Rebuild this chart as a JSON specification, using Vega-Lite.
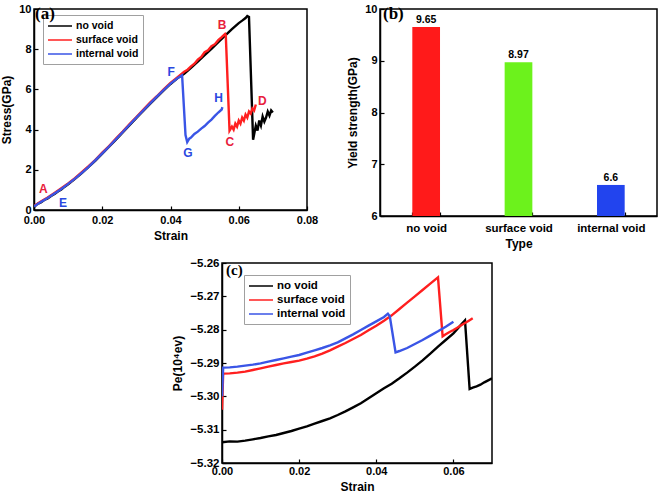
{
"$schema": "https://vega.github.io/schema/vega-lite/v6.json",
"padding": {"left": 0, "top": 2, "right": 5, "bottom": 0},
"background": "white",
"config": {
  "font": "Liberation Sans",
  "view": {"stroke": "black", "strokeWidth": 1.5},
  "axis": {"labelFont": "Liberation Sans", "labelFontWeight": "bold", "labelFontSize": 11, "labelColor": "black", "titleFont": "Liberation Sans", "titleFontWeight": "bold", "titleFontSize": 12, "titleColor": "black", "domainColor": "black", "domainWidth": 1.5, "tickColor": "black", "tickSize": -4, "tickWidth": 1.2, "labelPadding": 7, "titlePadding": 5, "grid": false, "labelFlush": false, "labelOverlap": false},
  "legend": {"labelFont": "Liberation Sans", "labelFontWeight": "bold", "labelColor": "black", "symbolType": "M-2,0H2", "symbolSize": 144, "symbolOffset": 6, "labelOffset": 9, "symbolStrokeWidth": 1.5, "strokeColor": "#a0a0a0", "padding": 4, "title": null},
  "title": {"font": "Liberation Serif", "fontWeight": "bold", "color": "black", "anchor": "start", "frame": "group"}
},
"datasets": {
  "a": [
    {"s":0,"v":0.15,"k":"no void"},{"s":0.001,"v":0.3,"k":"no void"},{"s":0.002,"v":0.38,"k":"no void"},{"s":0.003,"v":0.5,"k":"no void"},{"s":0.004,"v":0.58,"k":"no void"},{"s":0.005,"v":0.7,"k":"no void"},{"s":0.006,"v":0.8,"k":"no void"},{"s":0.007,"v":0.92,"k":"no void"},{"s":0.008,"v":1.02,"k":"no void"},{"s":0.009,"v":1.16,"k":"no void"},{"s":0.010,"v":1.28,"k":"no void"},{"s":0.012,"v":1.55,"k":"no void"},{"s":0.014,"v":1.84,"k":"no void"},{"s":0.016,"v":2.14,"k":"no void"},{"s":0.018,"v":2.46,"k":"no void"},{"s":0.020,"v":2.8,"k":"no void"},{"s":0.022,"v":3.15,"k":"no void"},{"s":0.024,"v":3.5,"k":"no void"},{"s":0.026,"v":3.86,"k":"no void"},{"s":0.028,"v":4.22,"k":"no void"},{"s":0.030,"v":4.58,"k":"no void"},{"s":0.032,"v":4.93,"k":"no void"},{"s":0.034,"v":5.28,"k":"no void"},{"s":0.036,"v":5.62,"k":"no void"},{"s":0.038,"v":5.95,"k":"no void"},{"s":0.040,"v":6.27,"k":"no void"},{"s":0.042,"v":6.55,"k":"no void"},{"s":0.044,"v":6.78,"k":"no void"},{"s":0.046,"v":7.07,"k":"no void"},{"s":0.048,"v":7.38,"k":"no void"},{"s":0.050,"v":7.7,"k":"no void"},{"s":0.052,"v":8.02,"k":"no void"},{"s":0.054,"v":8.35,"k":"no void"},{"s":0.056,"v":8.68,"k":"no void"},{"s":0.058,"v":9.0,"k":"no void"},{"s":0.060,"v":9.3,"k":"no void"},{"s":0.061,"v":9.42,"k":"no void"},{"s":0.062,"v":9.55,"k":"no void"},{"s":0.0625,"v":9.65,"k":"no void"},{"s":0.063,"v":9.6,"k":"no void"},{"s":0.0642,"v":3.5,"k":"no void"},{"s":0.065,"v":4.2,"k":"no void"},{"s":0.0655,"v":3.95,"k":"no void"},{"s":0.066,"v":4.45,"k":"no void"},{"s":0.0665,"v":4.2,"k":"no void"},{"s":0.067,"v":4.65,"k":"no void"},{"s":0.0675,"v":4.4,"k":"no void"},{"s":0.068,"v":4.6,"k":"no void"},{"s":0.0685,"v":4.9,"k":"no void"},{"s":0.069,"v":4.7,"k":"no void"},{"s":0.0695,"v":4.95,"k":"no void"},{"s":0.07,"v":4.85,"k":"no void"},
    {"s":0,"v":0.2,"k":"surface void"},{"s":0.002,"v":0.42,"k":"surface void"},{"s":0.004,"v":0.62,"k":"surface void"},{"s":0.006,"v":0.85,"k":"surface void"},{"s":0.008,"v":1.08,"k":"surface void"},{"s":0.010,"v":1.32,"k":"surface void"},{"s":0.012,"v":1.58,"k":"surface void"},{"s":0.014,"v":1.88,"k":"surface void"},{"s":0.016,"v":2.18,"k":"surface void"},{"s":0.018,"v":2.5,"k":"surface void"},{"s":0.020,"v":2.85,"k":"surface void"},{"s":0.022,"v":3.18,"k":"surface void"},{"s":0.024,"v":3.55,"k":"surface void"},{"s":0.026,"v":3.9,"k":"surface void"},{"s":0.028,"v":4.28,"k":"surface void"},{"s":0.030,"v":4.62,"k":"surface void"},{"s":0.032,"v":4.98,"k":"surface void"},{"s":0.034,"v":5.34,"k":"surface void"},{"s":0.036,"v":5.66,"k":"surface void"},{"s":0.038,"v":6.0,"k":"surface void"},{"s":0.040,"v":6.32,"k":"surface void"},{"s":0.042,"v":6.6,"k":"surface void"},{"s":0.044,"v":6.88,"k":"surface void"},{"s":0.045,"v":6.98,"k":"surface void"},{"s":0.046,"v":7.15,"k":"surface void"},{"s":0.047,"v":7.28,"k":"surface void"},{"s":0.048,"v":7.48,"k":"surface void"},{"s":0.049,"v":7.62,"k":"surface void"},{"s":0.050,"v":7.85,"k":"surface void"},{"s":0.051,"v":7.95,"k":"surface void"},{"s":0.052,"v":8.15,"k":"surface void"},{"s":0.053,"v":8.25,"k":"surface void"},{"s":0.054,"v":8.45,"k":"surface void"},{"s":0.055,"v":8.6,"k":"surface void"},{"s":0.056,"v":8.76,"k":"surface void"},{"s":0.0562,"v":8.7,"k":"surface void"},{"s":0.0573,"v":3.95,"k":"surface void"},{"s":0.058,"v":4.15,"k":"surface void"},{"s":0.0585,"v":4.0,"k":"surface void"},{"s":0.059,"v":4.3,"k":"surface void"},{"s":0.0595,"v":4.15,"k":"surface void"},{"s":0.060,"v":4.45,"k":"surface void"},{"s":0.0605,"v":4.3,"k":"surface void"},{"s":0.061,"v":4.6,"k":"surface void"},{"s":0.0615,"v":4.45,"k":"surface void"},{"s":0.062,"v":4.75,"k":"surface void"},{"s":0.0625,"v":4.6,"k":"surface void"},{"s":0.063,"v":4.9,"k":"surface void"},{"s":0.0635,"v":4.8,"k":"surface void"},{"s":0.064,"v":5.05,"k":"surface void"},{"s":0.0645,"v":4.95,"k":"surface void"},{"s":0.065,"v":5.25,"k":"surface void"},
    {"s":0,"v":0.18,"k":"internal void"},{"s":0.002,"v":0.4,"k":"internal void"},{"s":0.004,"v":0.6,"k":"internal void"},{"s":0.006,"v":0.82,"k":"internal void"},{"s":0.008,"v":1.05,"k":"internal void"},{"s":0.010,"v":1.3,"k":"internal void"},{"s":0.012,"v":1.56,"k":"internal void"},{"s":0.014,"v":1.85,"k":"internal void"},{"s":0.016,"v":2.15,"k":"internal void"},{"s":0.018,"v":2.48,"k":"internal void"},{"s":0.020,"v":2.82,"k":"internal void"},{"s":0.022,"v":3.16,"k":"internal void"},{"s":0.024,"v":3.52,"k":"internal void"},{"s":0.026,"v":3.88,"k":"internal void"},{"s":0.028,"v":4.24,"k":"internal void"},{"s":0.030,"v":4.6,"k":"internal void"},{"s":0.032,"v":4.95,"k":"internal void"},{"s":0.034,"v":5.3,"k":"internal void"},{"s":0.036,"v":5.64,"k":"internal void"},{"s":0.038,"v":5.97,"k":"internal void"},{"s":0.040,"v":6.29,"k":"internal void"},{"s":0.042,"v":6.55,"k":"internal void"},{"s":0.0434,"v":6.7,"k":"internal void"},{"s":0.0444,"v":3.73,"k":"internal void"},{"s":0.0449,"v":3.38,"k":"internal void"},{"s":0.0455,"v":3.55,"k":"internal void"},{"s":0.046,"v":3.6,"k":"internal void"},{"s":0.047,"v":3.78,"k":"internal void"},{"s":0.048,"v":3.9,"k":"internal void"},{"s":0.049,"v":4.05,"k":"internal void"},{"s":0.050,"v":4.18,"k":"internal void"},{"s":0.051,"v":4.35,"k":"internal void"},{"s":0.052,"v":4.5,"k":"internal void"},{"s":0.053,"v":4.68,"k":"internal void"},{"s":0.054,"v":4.85,"k":"internal void"},{"s":0.055,"v":5.0,"k":"internal void"},{"s":0.0552,"v":5.12,"k":"internal void"}
  ],
  "c": [
    {"s":0,"v":-5.3138,"k":"no void"},{"s":0.002,"v":-5.3135,"k":"no void"},{"s":0.004,"v":-5.3136,"k":"no void"},{"s":0.006,"v":-5.3133,"k":"no void"},{"s":0.008,"v":-5.3129,"k":"no void"},{"s":0.010,"v":-5.3125,"k":"no void"},{"s":0.012,"v":-5.3120,"k":"no void"},{"s":0.014,"v":-5.3116,"k":"no void"},{"s":0.016,"v":-5.3110,"k":"no void"},{"s":0.018,"v":-5.3104,"k":"no void"},{"s":0.020,"v":-5.3097,"k":"no void"},{"s":0.022,"v":-5.3090,"k":"no void"},{"s":0.024,"v":-5.3082,"k":"no void"},{"s":0.026,"v":-5.3074,"k":"no void"},{"s":0.028,"v":-5.3066,"k":"no void"},{"s":0.030,"v":-5.3056,"k":"no void"},{"s":0.032,"v":-5.3045,"k":"no void"},{"s":0.034,"v":-5.3033,"k":"no void"},{"s":0.036,"v":-5.3021,"k":"no void"},{"s":0.038,"v":-5.3006,"k":"no void"},{"s":0.040,"v":-5.2991,"k":"no void"},{"s":0.042,"v":-5.2976,"k":"no void"},{"s":0.044,"v":-5.2962,"k":"no void"},{"s":0.046,"v":-5.2946,"k":"no void"},{"s":0.048,"v":-5.2929,"k":"no void"},{"s":0.050,"v":-5.2911,"k":"no void"},{"s":0.052,"v":-5.2892,"k":"no void"},{"s":0.054,"v":-5.2872,"k":"no void"},{"s":0.056,"v":-5.2851,"k":"no void"},{"s":0.058,"v":-5.2831,"k":"no void"},{"s":0.060,"v":-5.2811,"k":"no void"},{"s":0.062,"v":-5.2785,"k":"no void"},{"s":0.063,"v":-5.2772,"k":"no void"},{"s":0.0642,"v":-5.2978,"k":"no void"},{"s":0.065,"v":-5.2974,"k":"no void"},{"s":0.066,"v":-5.2970,"k":"no void"},{"s":0.067,"v":-5.2965,"k":"no void"},{"s":0.068,"v":-5.2958,"k":"no void"},{"s":0.069,"v":-5.2952,"k":"no void"},{"s":0.070,"v":-5.2946,"k":"no void"},
    {"s":0,"v":-5.3040,"k":"surface void"},{"s":0.0003,"v":-5.2932,"k":"surface void"},{"s":0.002,"v":-5.2931,"k":"surface void"},{"s":0.004,"v":-5.2929,"k":"surface void"},{"s":0.006,"v":-5.2926,"k":"surface void"},{"s":0.008,"v":-5.2921,"k":"surface void"},{"s":0.010,"v":-5.2916,"k":"surface void"},{"s":0.012,"v":-5.2911,"k":"surface void"},{"s":0.014,"v":-5.2906,"k":"surface void"},{"s":0.016,"v":-5.2901,"k":"surface void"},{"s":0.018,"v":-5.2897,"k":"surface void"},{"s":0.020,"v":-5.2893,"k":"surface void"},{"s":0.022,"v":-5.2887,"k":"surface void"},{"s":0.024,"v":-5.2880,"k":"surface void"},{"s":0.026,"v":-5.2872,"k":"surface void"},{"s":0.028,"v":-5.2862,"k":"surface void"},{"s":0.030,"v":-5.2851,"k":"surface void"},{"s":0.032,"v":-5.2840,"k":"surface void"},{"s":0.034,"v":-5.2828,"k":"surface void"},{"s":0.036,"v":-5.2816,"k":"surface void"},{"s":0.038,"v":-5.2802,"k":"surface void"},{"s":0.040,"v":-5.2788,"k":"surface void"},{"s":0.042,"v":-5.2773,"k":"surface void"},{"s":0.044,"v":-5.2757,"k":"surface void"},{"s":0.046,"v":-5.2738,"k":"surface void"},{"s":0.048,"v":-5.2719,"k":"surface void"},{"s":0.050,"v":-5.2700,"k":"surface void"},{"s":0.052,"v":-5.2681,"k":"surface void"},{"s":0.054,"v":-5.2662,"k":"surface void"},{"s":0.056,"v":-5.2643,"k":"surface void"},{"s":0.0572,"v":-5.2820,"k":"surface void"},{"s":0.058,"v":-5.2814,"k":"surface void"},{"s":0.059,"v":-5.2807,"k":"surface void"},{"s":0.060,"v":-5.2801,"k":"surface void"},{"s":0.061,"v":-5.2794,"k":"surface void"},{"s":0.062,"v":-5.2787,"k":"surface void"},{"s":0.063,"v":-5.2780,"k":"surface void"},{"s":0.064,"v":-5.2773,"k":"surface void"},{"s":0.065,"v":-5.2766,"k":"surface void"},
    {"s":0,"v":-5.3000,"k":"internal void"},{"s":0.0003,"v":-5.2914,"k":"internal void"},{"s":0.002,"v":-5.2913,"k":"internal void"},{"s":0.004,"v":-5.2911,"k":"internal void"},{"s":0.006,"v":-5.2908,"k":"internal void"},{"s":0.008,"v":-5.2905,"k":"internal void"},{"s":0.010,"v":-5.2901,"k":"internal void"},{"s":0.012,"v":-5.2896,"k":"internal void"},{"s":0.014,"v":-5.2891,"k":"internal void"},{"s":0.016,"v":-5.2886,"k":"internal void"},{"s":0.018,"v":-5.2881,"k":"internal void"},{"s":0.020,"v":-5.2876,"k":"internal void"},{"s":0.022,"v":-5.2869,"k":"internal void"},{"s":0.024,"v":-5.2862,"k":"internal void"},{"s":0.026,"v":-5.2855,"k":"internal void"},{"s":0.028,"v":-5.2847,"k":"internal void"},{"s":0.030,"v":-5.2838,"k":"internal void"},{"s":0.032,"v":-5.2826,"k":"internal void"},{"s":0.034,"v":-5.2814,"k":"internal void"},{"s":0.036,"v":-5.2801,"k":"internal void"},{"s":0.038,"v":-5.2788,"k":"internal void"},{"s":0.040,"v":-5.2775,"k":"internal void"},{"s":0.042,"v":-5.2762,"k":"internal void"},{"s":0.043,"v":-5.2752,"k":"internal void"},{"s":0.0435,"v":-5.2760,"k":"internal void"},{"s":0.045,"v":-5.2868,"k":"internal void"},{"s":0.046,"v":-5.2864,"k":"internal void"},{"s":0.048,"v":-5.2855,"k":"internal void"},{"s":0.050,"v":-5.2843,"k":"internal void"},{"s":0.052,"v":-5.2831,"k":"internal void"},{"s":0.054,"v":-5.2818,"k":"internal void"},{"s":0.056,"v":-5.2805,"k":"internal void"},{"s":0.058,"v":-5.2791,"k":"internal void"},{"s":0.060,"v":-5.2776,"k":"internal void"}
  ]
},
"spacing": 5,
"resolve": {"scale": {"color": "independent"}, "legend": {"color": "independent"}},
"vconcat": [
  {
    "spacing": 27,
    "resolve": {"scale": {"color": "independent"}, "legend": {"color": "independent"}},
    "hconcat": [
      {
        "width": 273, "height": 201,
        "title": {"text": "(a)", "fontSize": 17, "offset": -20, "dx": 1},
        "layer": [
          {
            "data": {"name": "a"},
            "mark": {"type": "line", "strokeWidth": 2.4, "clip": true},
            "encoding": {
              "x": {"field": "s", "type": "quantitative", "scale": {"domain": [0, 0.08], "nice": false}, "axis": {"values": [0, 0.02, 0.04, 0.06, 0.08], "format": ".2f", "title": "Strain", "labelPadding": 8}},
              "y": {"field": "v", "type": "quantitative", "scale": {"domain": [0, 10], "nice": false}, "axis": {"values": [0, 2, 4, 6, 8, 10], "format": "d", "title": "Stress(GPa)"}},
              "color": {"field": "k", "type": "nominal", "sort": null, "scale": {"domain": ["no void", "surface void", "internal void"], "range": ["#000000", "#ff1f1f", "#3a55e6"]}, "legend": {"orient": "none", "legendX": 9, "legendY": 6, "labelFontSize": 10.5, "rowPadding": 1}}
            }
          },
          {
            "data": {"values": [{"s": 0.0027, "v": 1.06, "t": "A"}, {"s": 0.0551, "v": 9.2, "t": "B"}, {"s": 0.0574, "v": 3.38, "t": "C"}, {"s": 0.0669, "v": 5.43, "t": "D"}]},
            "mark": {"type": "text", "color": "#e8203c", "fontWeight": "bold", "fontSize": 12, "font": "Liberation Sans"},
            "encoding": {"x": {"field": "s", "type": "quantitative"}, "y": {"field": "v", "type": "quantitative"}, "text": {"field": "t"}}
          },
          {
            "data": {"values": [{"s": 0.0085, "v": 0.35, "t": "E"}, {"s": 0.0402, "v": 6.85, "t": "F"}, {"s": 0.0451, "v": 2.85, "t": "G"}, {"s": 0.0541, "v": 5.58, "t": "H"}]},
            "mark": {"type": "text", "color": "#2a48e0", "fontWeight": "bold", "fontSize": 12, "font": "Liberation Sans"},
            "encoding": {"x": {"field": "s", "type": "quantitative"}, "y": {"field": "v", "type": "quantitative"}, "text": {"field": "t"}}
          }
        ]
      },
      {
        "width": 277, "height": 207,
        "title": {"text": "(b)", "fontSize": 17, "offset": -20, "dx": 3},
        "data": {"values": [{"type": "no void", "ys": 9.65, "lab": "9.65"}, {"type": "surface void", "ys": 8.97, "lab": "8.97"}, {"type": "internal void", "ys": 6.6, "lab": "6.6"}]},
        "encoding": {
          "x": {"field": "type", "type": "nominal", "sort": null, "scale": {"paddingInner": 0.7, "paddingOuter": 0.35}, "axis": {"labelAngle": 0, "title": "Type", "tickBand": "extent", "labelFontSize": 11.5, "labelPadding": 10}}
        },
        "layer": [
          {
            "mark": {"type": "bar"},
            "encoding": {
              "y": {"field": "ys", "type": "quantitative", "scale": {"domain": [6, 10], "zero": false, "nice": false}, "axis": {"values": [6, 7, 8, 9, 10], "format": "d", "title": "Yield strength(GPa)"}},
              "y2": {"datum": 6},
              "color": {"field": "type", "type": "nominal", "sort": null, "scale": {"domain": ["no void", "surface void", "internal void"], "range": ["#ff1a1a", "#6cf21c", "#2244ee"]}, "legend": null}
            }
          },
          {
            "mark": {"type": "text", "baseline": "bottom", "dy": -2, "fontWeight": "bold", "fontSize": 10.5, "font": "Liberation Sans", "color": "black"},
            "encoding": {"y": {"field": "ys", "type": "quantitative"}, "text": {"field": "lab"}}
          }
        ]
      }
    ]
  },
  {
    "spacing": 0,
    "resolve": {"scale": {"color": "independent"}, "legend": {"color": "independent"}},
    "hconcat": [
      {
        "width": 137, "height": 10,
        "view": {"stroke": null},
        "data": {"values": []},
        "mark": "point"
      },
      {
        "width": 270, "height": 200,
        "title": {"text": "(c)", "fontSize": 15, "offset": -21, "dx": 4},
        "data": {"name": "c"},
        "mark": {"type": "line", "strokeWidth": 2.4, "clip": true},
        "encoding": {
          "x": {"field": "s", "type": "quantitative", "scale": {"domain": [0, 0.07], "nice": false}, "axis": {"values": [0, 0.02, 0.04, 0.06], "format": ".2f", "title": "Strain", "labelPadding": 6}},
          "y": {"field": "v", "type": "quantitative", "scale": {"domain": [-5.32, -5.26], "nice": false, "zero": false}, "axis": {"values": [-5.32, -5.31, -5.3, -5.29, -5.28, -5.27, -5.26], "format": ".2f", "title": "Pe(10⁴ev)", "labelFontSize": 11.5}},
          "color": {"field": "k", "type": "nominal", "sort": null, "scale": {"domain": ["no void", "surface void", "internal void"], "range": ["#000000", "#ff1f1f", "#3a55e6"]}, "legend": {"orient": "none", "legendX": 22, "legendY": 12, "labelFontSize": 11.5, "rowPadding": 1}}
        }
      }
    ]
  }
]
}
